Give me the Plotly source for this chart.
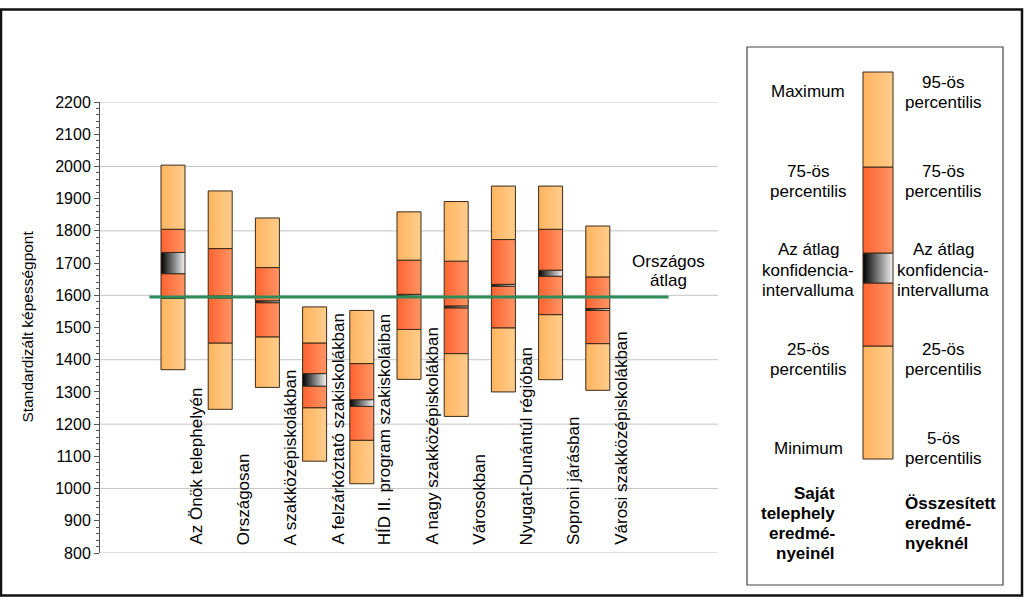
import plotly.graph_objects as go

W, H = 1024, 597

# ---------------- data ----------------
categories = [
    "Az Önök telephelyén",
    "Országosan",
    "A szakközépiskolákban",
    "A felzárkóztató szakiskolákban",
    "HÍD II. program szakiskoláiban",
    "A nagy szakközépiskolákban",
    "Városokban",
    "Nyugat-Dunántúl régióban",
    "Soproni járásban",
    "Városi szakközépiskolákban",
]
low_vals   = [1369, 1246, 1314, 1085, 1015, 1339, 1224, 1300, 1338, 1305]   # minimum / 5th pct
p25_vals   = [1590, 1452, 1471, 1251, 1150, 1494, 1419, 1499, 1540, 1450]
ci_lo_vals = [1667, 1592, 1577, 1318, 1255, 1597, 1561, 1628, 1659, 1553]
ci_hi_vals = [1733, 1598, 1583, 1357, 1276, 1603, 1567, 1634, 1678, 1559]
p75_vals   = [1805, 1745, 1686, 1452, 1388, 1709, 1706, 1773, 1805, 1657]
high_vals  = [2004, 1924, 1840, 1564, 1553, 1859, 1891, 1939, 1939, 1815]   # maximum / 95th pct
national_avg = 1595

y_min, y_max = 800, 2200
tick_step = 100
grid_step = 200
minor_step = 20

# sample bar in the key (schematic levels)
legend_sample_levels = [0, 113, 176, 206, 292, 387]

left_labels = ["Maximum", "75-ös<br>percentilis", "Az átlag<br>konfidencia-<br>intervalluma",
               "25-ös<br>percentilis", "Minimum"]
right_labels = ["95-ös<br>percentilis", "75-ös<br>percentilis", "Az átlag<br>konfidencia-<br>intervalluma",
                "25-ös<br>percentilis", "5-ös<br>percentilis"]
left_title = "Saját<br>telephely<br>eredmé-<br>nyeinél"
right_title = "Összesített<br>eredmé-<br>nyeknél"
avg_label = "Országos<br>átlag"
y_title = "Standardizált képességpont"

# ---------------- style ----------------
FONT = "Liberation Sans, Arial, sans-serif"
LIGHT = [[0, "#FFB460"], [1, "#FFCD8C"]]
RED = [[0, "#FF6330"], [1, "#FF9566"]]
CI = [[0, "#000000"], [1, "#F4F4F4"]]
EDGE = "#3A2A18"
GREEN = "#2E8B5A"

# observed rendering: paper spans pixel rows TOP_PX .. TOP_PX+SPAN_PX
TOP_PX, SPAN_PX = 8, 580

def px_x(p):
    return p / W

def px_y(p):
    return (TOP_PX + SPAN_PX - p) / SPAN_PX

# plot area in pixels
PL, PR, PT, PB = 100, 718, 102, 553
first_c, spacing = 173, 47.2
x_lo = (PL - first_c) / spacing
x_hi = (PR - first_c) / spacing
half_w = 12 / spacing

fig = go.Figure()

def seg(xc, hw, lo, hi, cs, xa="x", ya="y"):
    fig.add_trace(go.Scatter(
        x=[xc - hw, xc + hw, xc + hw, xc - hw, xc - hw],
        y=[lo, lo, hi, hi, lo],
        mode="lines", fill="toself",
        fillgradient=dict(type="horizontal", colorscale=cs),
        line=dict(color=EDGE, width=1),
        hoverinfo="skip", showlegend=False, xaxis=xa, yaxis=ya,
    ))

for i in range(len(categories)):
    seg(i, half_w, low_vals[i], p25_vals[i], LIGHT)
    seg(i, half_w, p25_vals[i], ci_lo_vals[i], RED)
    seg(i, half_w, ci_lo_vals[i], ci_hi_vals[i], CI)
    seg(i, half_w, ci_hi_vals[i], p75_vals[i], RED)
    seg(i, half_w, p75_vals[i], high_vals[i], LIGHT)

fig.add_trace(go.Scatter(
    x=[-0.5, len(categories) + 0.5], y=[national_avg, national_avg],
    mode="lines", line=dict(color=GREEN, width=3),
    hoverinfo="skip", showlegend=False,
))

# key bar
L = legend_sample_levels
key_cs = [LIGHT, RED, CI, RED, LIGHT]
for k in range(5):
    seg(0, 0.5, L[k], L[k + 1], key_cs[k], xa="x2", ya="y2")

# ---------------- layout ----------------
shapes = []
for g in range(y_min, y_max + 1, grid_step):
    shapes.append(dict(type="line", xref="x domain", yref="y", x0=0, x1=1, y0=g, y1=g,
                       line=dict(color="#C4C4C4", width=1), layer="below"))
# outer frame
shapes.append(dict(type="rect", xref="paper", yref="paper",
                   x0=px_x(1), x1=px_x(1022), y0=px_y(595.5), y1=px_y(9.5),
                   line=dict(color="#111111", width=2.5)))
# key box
shapes.append(dict(type="rect", xref="paper", yref="paper",
                   x0=px_x(747), x1=px_x(1003), y0=px_y(585), y1=px_y(47),
                   line=dict(color="#444444", width=1.2)))

annotations = []

def text_block(text, xc, yc, anchor="center", size=17, step=20, bold=False):
    lines = text.split("<br>")
    n = len(lines)
    for k, ln in enumerate(lines):
        yy = yc + (k - (n - 1) / 2) * step
        annotations.append(dict(
            x=px_x(xc), y=px_y(yy), xref="paper", yref="paper",
            text=("<b>%s</b>" % ln) if bold else ln,
            showarrow=False, xanchor=anchor, yanchor="middle",
            font=dict(family=FONT, size=size, color="#000")))

for i, c in enumerate(categories):
    annotations.append(dict(x=i, y=px_y(547), xref="x", yref="paper", text=c,
                            textangle=-90, xanchor="center", yanchor="bottom",
                            xshift=23, showarrow=False,
                            font=dict(family=FONT, size=17, color="#000")))
annotations.append(dict(x=px_x(27), y=px_y(326.5), xref="paper", yref="paper",
                        text=y_title, textangle=-90, xanchor="center", yanchor="middle",
                        showarrow=False, font=dict(family=FONT, size=15.5, color="#000")))
text_block(avg_label, 668, 271, step=19)

key_rows = [92, 181.5, 270, 359.5, 448]
for t, r in zip(left_labels, key_rows):
    text_block(t, 808, r)
for t, r in zip(right_labels, key_rows):
    text_block(t, 943, r)
text_block(left_title, 837, 523.5, anchor="right", bold=True)
text_block(right_title, 903, 523.5, anchor="left", bold=True)

key_pad_x = 5 / 30
key_pad_y = 10
fig.update_layout(
    width=W, height=H,
    margin=dict(l=0, r=0, t=0, b=0),
    paper_bgcolor="white", plot_bgcolor="rgba(0,0,0,0)",
    xaxis=dict(domain=[px_x(PL), px_x(PR)], range=[x_lo, x_hi],
               showgrid=False, zeroline=False, showline=False,
               showticklabels=False, ticks="", fixedrange=True),
    yaxis=dict(domain=[px_y(PB), px_y(PT)], range=[y_min, y_max],
               tickmode="linear", tick0=y_min, dtick=tick_step,
               showgrid=False, zeroline=False,
               showline=True, linecolor="#555555", linewidth=1,
               ticks="outside", ticklen=5, tickcolor="#555555",
               minor=dict(dtick=minor_step, ticks="outside", ticklen=3,
                          tickcolor="#555555", showgrid=False),
               tickfont=dict(family=FONT, size=16, color="#000"),
               fixedrange=True),
    xaxis2=dict(domain=[px_x(858), px_x(898)], range=[-0.5 - key_pad_x, 0.5 + key_pad_x],
                visible=False, fixedrange=True, anchor="y2"),
    yaxis2=dict(domain=[px_y(469), px_y(62)],
                range=[L[0] - key_pad_y, L[-1] + key_pad_y],
                visible=False, fixedrange=True, anchor="x2"),
    shapes=shapes,
    annotations=annotations,
)

fig.write_html("out.html")
